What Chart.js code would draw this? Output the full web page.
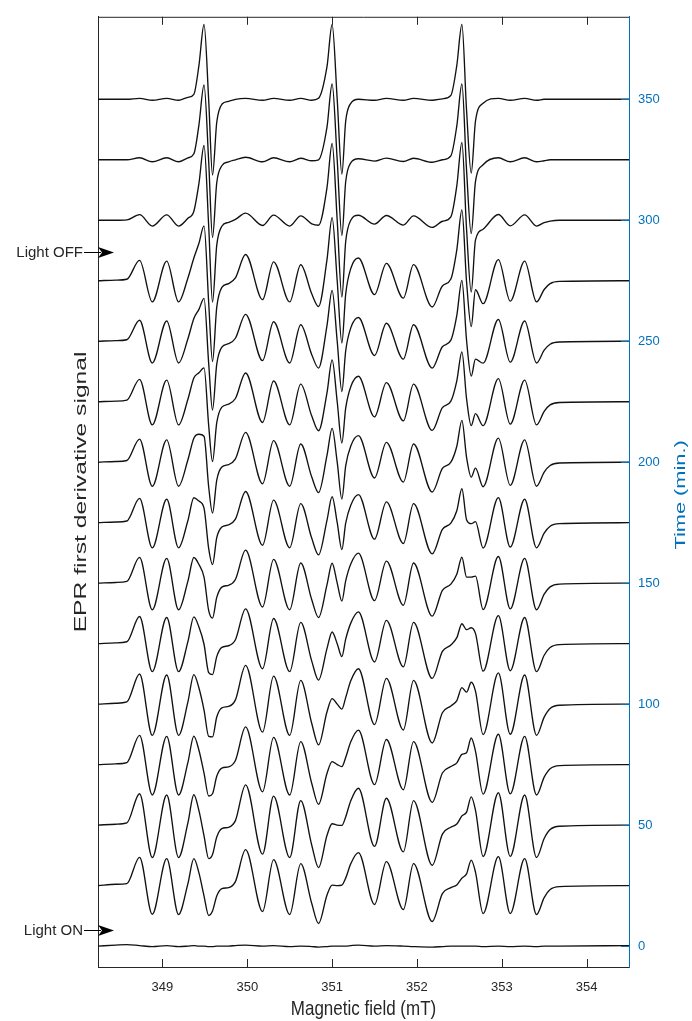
<!DOCTYPE html>
<html>
<head>
<meta charset="utf-8">
<title>EPR spectra vs time</title>
<script src="https://cdn.jsdelivr.net/npm/chart.js@4.4.1/dist/chart.umd.min.js"></script>
<style>
  html, body { margin: 0; padding: 0; background: #fff; }
  #wrap { width: 692px; height: 1021px; }
</style>
</head>
<body>
<div id="wrap"><canvas id="epr" width="692" height="1021"></canvas></div>
<script>
// Campo magnetico (mT), comun a todas las trazas
const fieldMT = [348.24, 348.45, 348.58, 348.73, 348.88, 349.05, 349.19, 349.30, 349.37, 349.43,
  349.49, 349.545, 349.59, 349.64, 349.70, 349.78, 349.86, 349.98, 350.18, 350.31,
  350.50, 350.63, 350.76, 350.84, 350.94, 351.00, 351.06, 351.115, 351.16, 351.22,
  351.31, 351.50, 351.64, 351.84, 351.96, 352.18, 352.30, 352.40, 352.47, 352.53,
  352.585, 352.64, 352.69, 352.78, 352.96, 353.10, 353.27, 353.41, 353.50, 353.57,
  353.68, 354.50];

// Tiempo de cada espectro (min)
const timesMin = [0, 25, 50, 75, 100, 125, 150, 175, 200, 225, 250, 275, 300, 325, 350];

const sig0 = [0,1,1.5,0.5,-0.5,0.5,-0.5,0,0.5,0, 0,-0.5,-0.5,0,0,0,0.5,1,0,0.5, -0.5,0,-0.5,-1,-0.5,0,0,0,0,0.5, 1,0,0.5,0,-0.5,-1,-0.5,0,0,0, 0,0,0,-0.5,0,-0.5,0,-0.5,0,0, 0,0.5];
const sig25 = [0,1.3,2,28.3,-28.7,27,-29,2,27,12.7, -10.5,-30,-25.5,-10.5,-3.1,-2,4,36,-26,26, -29,22,-18,-38,-9.4,0.5,0,0.5,7.5,22, 33,-19,24,-24,22,-36,-8,-2,0.6,7.5, 11.8,25.5,13.5,-28,29,-28,27,-29,-12,-4, -1,0];
const sig50 = [0,0.9,2.2,31.4,-32.5,30.2,-32.5,2.2,30.4,14.5, -10.9,-33.6,-29.4,-12,-3.6,-2.2,4.5,40.3,-29.1,29.1, -32.5,24.6,-20.2,-42.6,-10.2,1.4,0,-0.3,8.2,24.5, 37,-21.3,26.9,-26.9,24.6,-40.3,-9,-2.1,1.1,9.2, 13,28.3,15,-31.5,32.5,-31.4,30.2,-32.5,-13.4,-4.5, -1.1,0];
const sig75 = [0,0.8,2.1,29.4,-30.5,28.4,-30.5,2.2,28.6,14.4, -8.6,-31.5,-29.2,-11.7,-3.5,-2.2,4.2,37.8,-27.3,27.3, -30.5,23.1,-18.9,-39.8,-8.7,3,0,-2,7.2,22.9, 34.6,-20,25.2,-25.2,23.1,-37.8,-8.4,-1.9,1.8,10.3, 12,26.7,13.5,-29.6,30.5,-29.4,28.4,-30.5,-12.6,-4.2, -1,0];
const sig100 = [0,0.9,2.2,30.2,-31.3,29.2,-31.3,2.3,29.6,16.2, -6,-32.4,-32.9,-12.9,-3.7,-2.3,4.3,38.9,-28.1,28.1, -31.3,23.8,-19.4,-40.8,-7.6,5.5,0,-5,6.5,23.4, 35.5,-20.5,25.9,-25.9,23.8,-38.9,-8.6,-1.8,3.5,16.5, 12,22,13,-30.5,31.3,-30.2,29.2,-31.3,-13,-4.3, -1.1,0];
const sig125 = [0,0.8,1.9,27.2,-28.1,26.2,-28.1,2.1,26.8,16.6, -0.6,-29.1,-31,-13,-3.7,-2.1,3.9,34.9,-25.2,25.2, -28.1,21.3,-17.5,-36.6,-4.7,11.7,0,-13,4.5,20.6, 31.8,-18.4,23.3,-23.3,21.3,-34.9,-7.7,-1.3,6,20, 14,16,10.3,-27.6,28.1,-27.2,26.2,-28.1,-11.6,-3.9, -1,0];
const sig150 = [0,0.7,1.8,25.8,-26.7,24.8,-26.7,2.1,25.7,18.7, 6,-27.6,-35,-14.3,-4,-2.1,3.7,33.1,-23.9,23.9, -26.7,20.2,-16.6,-34.5,-1.5,20,0,-18,2.3,19.2, 30.1,-17.5,22.1,-22.1,20.2,-33.1,-7.2,-0.9,9,26, 6,6,7,-26.5,26.7,-25.8,24.8,-26.7,-11,-3.7, -0.9,0];
const sig175 = [0,0.7,1.7,24.4,-25.2,23.5,-25.2,2.2,25,21.7, 14.6,-26.1,-42,-15,-4.4,-2.2,3.5,31.3,-22.6,22.6, -25.2,19.1,-15.7,-32.3,2.6,26,0,-27,-0.5,17.6, 28.2,-16.5,20.9,-20.9,19.1,-31.3,-6.7,-0.4,12,34, 3,-1,1,-25.4,25.2,-24.4,23.5,-25.2,-10.4,-3.5, -0.9,0];
const sig200 = [0,0.7,1.7,23.2,-24.1,22.4,-24.1,2.4,24.1,28, 26,-24.9,-51,-18,-4.9,-2.4,3.3,29.9,-21.6,21.6, -24.1,18.3,-14.9,-30.5,7,34,0,-37,-3.6,16.3, 26.7,-15.8,19.9,-19.9,18.3,-29.9,-6.3,0,16,42, 4.9,-15,-6,-24.6,24.1,-23.2,22.4,-24.1,-10,-3.3, -0.8,0];
const sig225 = [0,0.6,1.6,22.4,-23.2,21.6,-23.2,2.5,23.8,29, 34,-24,-60,-21,-5.4,-2.5,3.2,28.8,-20.8,20.8, -23.2,17.6,-14.4,-29.1,9.2,42,0,-41.4,-6.5,15, 25.5,-15.2,19.2,-19.2,17.6,-28.8,-6,0.6,21,50, 3,-24,-12,-24,23.2,-22.4,21.6,-23.2,-9.6,-3.2, -0.8,0];
const sig250 = [0,0.6,1.5,21,-21.8,20.3,-21.8,2.5,22.9,32, 43,-22.5,-69,-23,-5.9,-2.5,3,27,-19.5,19.5, -21.8,16.5,-13.5,-26.9,16,51,0,-50.5,-9.6,13.4, 23.8,-14.3,18,-18,16.5,-27,-5.5,1.1,26,61, 1,-35,-18,-22,21.8,-21,20.3,-21.8,-9,-3, -0.8,0];
const sig275 = [0,0.6,1.5,20.4,-21.2,19.7,-21.2,2.8,22.9,37.6, 55,-22,-81,-26.5,-6.7,-2.8,2.9,26.3,-19,19, -21.2,16,-13.1,-25.8,21.5,63.3,0,-62.5,-13.4,12.3, 22.8,-13.9,17.5,-17.5,16.1,-26.3,-5.2,1.7,31,71, -1,-46,-9,-23,21.2,-20.4,19.7,-21.2,-8.8,-2.9, -0.7,0];
const sig300 = [0,0,0.4,5.6,-5.8,5.4,-5.8,2,9,37, 75,-6,-82,-25,-6,-2,0.8,7.2,-5.2,5.2, -5.8,4.4,-3.6,-5,33,77,0,-77,-21.5,0, 5,-3.8,4.8,-4.8,4.4,-7.2,-1,3.5,34.6,78, -9,-72,-20,-9,5.8,-5.6,5.4,-5.8,-2.4,-0.8, 0,0];
const sig325 = [0,0,0,2,-2,2,-2,2,6,35, 75,-2,-78,-23,-6,-2,0,2.5,-2,2, -2,1.5,-1,0,33,76,0,-76,-22,-3, 1,-1.3,1.7,-1.7,1.5,-2.5,0,4,34,76, -10.6,-74,-22,-5,2,-2,2,-2,-1,0, 0,0];
const sig350 = [0,0,0,1,-1,1,-1,2,5,34, 75,-1,-76,-23,-5,-2,0,1,-1,1, -1,1,-1,1,33,75,0,-75,-22,-4, 0,-1,1,-1,1,-1,0.5,4,34,75, -11,-74,-22,-4,1,-1,1,-1,0,0, 0,0];

// Marcas de ejes
const fieldTicks = [349, 350, 351, 352, 353, 354];
const timeTicks = [0, 50, 100, 150, 200, 250, 300, 350];

// Encendido / apagado de la luz (min)
const lightEvents = [
  { label: 'Light ON', t: 6.6 },
  { label: 'Light OFF', t: 287 }
];

const signals = [sig0, sig25, sig50, sig75, sig100, sig125, sig150, sig175,
  sig200, sig225, sig250, sig275, sig300, sig325, sig350];

const GAIN = 1 / 2.4266;   // u.a. -> min de desplazamiento
const AXIS = '#262626';
const BLUE = '#0072BD';
const FONT = '"Liberation Sans", Arial, Helvetica, sans-serif';
const STRETCH = 1.45;      // la figura original esta estirada en vertical

const datasets = signals.map((sig, k) => ({
  label: timesMin[k] + ' min',
  data: fieldMT.map((f, i) => ({ x: f, y: timesMin[k] + sig[i] * GAIN })),
  borderColor: '#111111',
  borderWidth: 1.35,
  pointRadius: 0,
  fill: false,
  cubicInterpolationMode: 'monotone',
  xAxisID: 'x',
  yAxisID: 'y'
}));

// texto girado 90 grados (se lee de abajo arriba), alargado
function textoVertical(ctx, txt, x, y, color, size) {
  ctx.save();
  ctx.fillStyle = color;
  ctx.font = size + 'px ' + FONT;
  ctx.textAlign = 'center';
  ctx.textBaseline = 'alphabetic';
  ctx.translate(x, y);
  ctx.rotate(-Math.PI / 2);
  ctx.scale(STRETCH, 1);
  ctx.fillText(txt, 0, 0);
  ctx.restore();
}

// Marco estilo MATLAB: ticks hacia dentro, titulos y flechas
const marcoPlugin = {
  id: 'marco',
  afterDraw(chart) {
    const { ctx, chartArea: a, scales: { x, y } } = chart;
    ctx.save();
    ctx.lineWidth = 1;

    // linea superior de la caja
    ctx.strokeStyle = AXIS;
    ctx.beginPath();
    ctx.moveTo(a.left, a.top + 0.5);
    ctx.lineTo(a.right, a.top + 0.5);
    ctx.stroke();

    // ticks del campo, abajo y arriba
    ctx.beginPath();
    fieldTicks.forEach(v => {
      const px = Math.round(x.getPixelForValue(v)) + 0.5;
      ctx.moveTo(px, a.bottom);
      ctx.lineTo(px, a.bottom - 8);
      ctx.moveTo(px, a.top);
      ctx.lineTo(px, a.top + 8);
    });
    ctx.stroke();

    // ticks del tiempo, eje derecho
    ctx.strokeStyle = BLUE;
    ctx.beginPath();
    timeTicks.forEach(v => {
      const py = Math.round(y.getPixelForValue(v)) + 0.5;
      ctx.moveTo(a.right, py);
      ctx.lineTo(a.right - 8, py);
    });
    ctx.stroke();

    // titulos de ejes
    const midY = (a.top + a.bottom) / 2;
    ctx.save();
    ctx.fillStyle = AXIS;
    ctx.font = '17px ' + FONT;
    ctx.textAlign = 'center';
    ctx.textBaseline = 'alphabetic';
    ctx.translate((a.left + a.right) / 2, 1015);
    ctx.scale(1, 1.15);
    ctx.fillText('Magnetic field (mT)', 0, 0);
    ctx.restore();

    textoVertical(ctx, 'EPR first derivative signal', 86, midY, AXIS, 17);
    textoVertical(ctx, 'Time (min.)', 685, midY + 3, BLUE, 15);

    // flechas de luz
    ctx.font = '15px ' + FONT;
    ctx.textAlign = 'right';
    ctx.textBaseline = 'middle';
    lightEvents.forEach(ev => {
      const py = Math.round(y.getPixelForValue(ev.t)) + 0.5;
      ctx.fillStyle = AXIS;
      ctx.fillText(ev.label, 83, py);
      ctx.strokeStyle = '#000';
      ctx.beginPath();
      ctx.moveTo(84, py);
      ctx.lineTo(101, py);
      ctx.stroke();
      ctx.fillStyle = '#000';
      ctx.beginPath();
      ctx.moveTo(114, py);
      ctx.lineTo(98, py - 5.5);
      ctx.lineTo(102, py);
      ctx.lineTo(98, py + 5.5);
      ctx.closePath();
      ctx.fill();
    });
    ctx.restore();
  }
};

new Chart(document.getElementById('epr'), {
  type: 'line',
  data: { datasets },
  options: {
    responsive: false,
    animation: false,
    events: [],
    layout: { padding: { top: 14, left: 0, right: 0, bottom: 0 } },
    plugins: { legend: { display: false }, tooltip: { enabled: false } },
    scales: {
      x: {
        type: 'linear',
        position: 'bottom',
        min: 348.24,
        max: 354.5,
        afterBuildTicks: s => { s.ticks = fieldTicks.map(v => ({ value: v })); },
        afterFit: s => { s.height = 54; },
        grid: { display: false, drawTicks: false },
        border: { display: true, color: AXIS, width: 1 },
        ticks: { color: AXIS, font: { family: FONT, size: 13 }, padding: 13, maxRotation: 0 }
      },
      yL: {
        type: 'linear',
        position: 'left',
        min: -8.65,
        max: 384.1,
        afterFit: s => { s.width = 98; },
        grid: { display: false, drawTicks: false },
        border: { display: true, color: AXIS, width: 1 },
        ticks: { display: false }
      },
      y: {
        type: 'linear',
        position: 'right',
        min: -8.65,
        max: 384.1,
        afterBuildTicks: s => { s.ticks = timeTicks.map(v => ({ value: v })); },
        afterFit: s => { s.width = 63; },
        grid: { display: false, drawTicks: false },
        border: { display: true, color: BLUE, width: 1 },
        ticks: { color: BLUE, font: { family: FONT, size: 13 }, padding: 9 }
      }
    }
  },
  plugins: [marcoPlugin]
});
</script>
</body>
</html>
